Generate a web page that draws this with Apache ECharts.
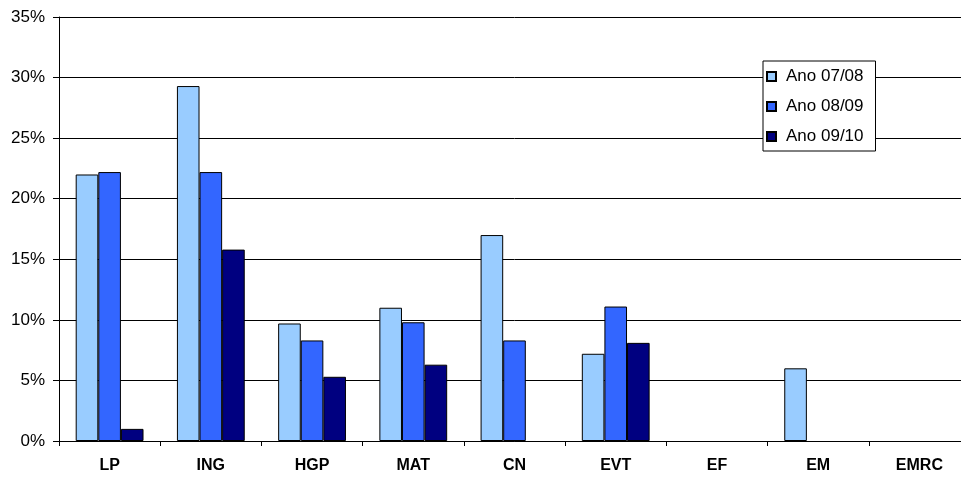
<!DOCTYPE html>
<html><head><meta charset="utf-8">
<script src="https://cdn.jsdelivr.net/npm/echarts@6/dist/echarts.min.js"></script>
<style>html,body{margin:0;padding:0;background:#fff;overflow:hidden}#c{width:975px;height:478px}</style>
</head><body><div id="c"></div>
<script>
const categories = ['LP','ING','HGP','MAT','CN','EVT','EF','EM','EMRC'];
const seriesNames = ['Ano 07/08','Ano 08/09','Ano 09/10'];
const ano0708 = [22.0, 29.3, 9.7, 11.0, 17.0, 7.2, null, 6.0, null];
const ano0809 = [22.2, 22.2, 8.3, 9.8, 8.3, 11.1, null, null, null];
const ano0910 = [1.0, 15.8, 5.3, 6.3, null, 8.1, null, null, null];
const yTicks = [0,5,10,15,20,25,30,35];
const colors = ['#99CCFF','#3366FF','#000080'];

const chart = echarts.init(document.getElementById('c'));
const values = [ano0708, ano0809, ano0910];
chart.setOption({
  animation:false,
  backgroundColor:'#fff',
  textStyle:{fontFamily:'Liberation Sans, Arial, sans-serif'},
  grid:{left:59, right:5, top:17, bottom:37},
  legend:{
    orient:'vertical', left:763, top:61,
    data:seriesNames, icon:'rect', itemWidth:9, itemHeight:9, itemGap:13,
    padding:[7,12,6,3],
    backgroundColor:'#fff', borderColor:'#000', borderWidth:1,
    textStyle:{fontSize:17, color:'#000', fontFamily:'Liberation Sans, Arial, sans-serif', padding:[0,0,0,5]}
  },
  xAxis:{
    type:'category', data:categories,
    axisLine:{lineStyle:{color:'#000', width:1}},
    axisTick:{show:true, length:5, lineStyle:{color:'#000'}},
    axisLabel:{fontSize:16, fontWeight:'bold', color:'#000', margin:17}
  },
  yAxis:{
    type:'value', min:yTicks[0], max:yTicks[yTicks.length-1], interval:5,
    axisLine:{show:true, lineStyle:{color:'#000', width:1}},
    axisTick:{show:true, length:6, lineStyle:{color:'#000'}},
    axisLabel:{fontSize:17, color:'#000', margin:14, formatter:v=>v+'%'},
    splitLine:{lineStyle:{color:'#000', width:1}}
  },
  series: seriesNames.map((n,i)=>({
    name:n, type:'bar', data:values[i],
    barGap:'0%', barCategoryGap:'33%',
    itemStyle:{color:colors[i], borderColor:'#000', borderWidth:1}
  }))
});
</script></body></html>
